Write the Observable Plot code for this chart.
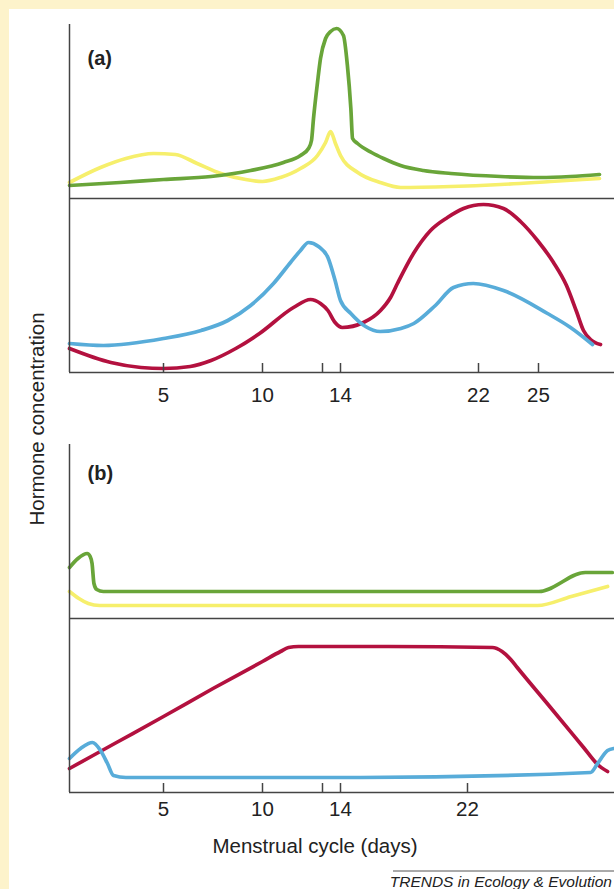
<!DOCTYPE html>
<html><head><meta charset="utf-8">
<script src="https://cdn.jsdelivr.net/npm/d3@7"></script>
<script src="https://cdn.jsdelivr.net/npm/@observablehq/plot@0.6"></script>
<style>
html,body{margin:0;padding:0;background:#fdf3cb;width:614px;height:889px;overflow:hidden;font-family:"Liberation Sans",Arial,Helvetica,sans-serif}
#sheet{position:absolute;left:9px;top:9px;right:0;bottom:0;background:#fff}
.abs{position:absolute;left:0}
</style></head><body>
<div id="sheet"></div>
<div id="pa" class="abs" style="top:0"></div>
<div id="pb" class="abs" style="top:420px"></div>
<svg class="abs" style="top:0" width="614" height="889" font-family="Liberation Sans, Arial, sans-serif" fill="#222">
  <text transform="translate(43.5,419) rotate(-90)" text-anchor="middle" font-size="20.5">Hormone concentration</text>
  <text x="315" y="852.5" text-anchor="middle" font-size="20.5">Menstrual cycle (days)</text>
  <line x1="393" x2="614" y1="871" y2="871" stroke="#555" stroke-width="1"/>
  <text x="612" y="886.5" text-anchor="end" font-size="15.5" font-style="italic">TRENDS in Ecology &amp; Evolution</text>
</svg>
<script>
// ---- data: [day, relative concentration] ----
const hormones = ["FSH", "LH", "Progesterone", "Estradiol"];
const colors = ["#f6ef6c", "#69a539", "#b3113f", "#58acd9"];

// Panel (a): normal cycle
const aFSH = [[0,16],[1.65,31],[3,40],[4.47,45],[5.6,44],[6.7,35],[7.9,25],[9.15,19],[10,17],[10.9,21],[11.9,30],[12.75,43],[13.17,56],[13.45,67],[13.72,55],[14,43],[15,26],[16.3,16],[17.48,11],[20.4,12],[23.1,14],[25.6,17],[28.05,20]];
const aLH = [[0,13],[2.7,16],[5,19],[7.4,22],[9.4,28],[11.05,36],[11.9,43],[12.3,50],[12.45,58],[12.55,80],[12.75,116],[12.9,140],[13.17,160],[13.45,167],[13.78,170],[14.17,163],[14.4,133],[14.6,90],[14.7,60],[14.99,55],[15.8,46],[16.5,40],[17.48,33],[18.8,28],[20.4,25],[23.1,22],[25.1,21],[26.6,22],[28.05,24]];
const aEstradiol = [[0,29],[1.8,27],[5,34],[6.9,42],[8.25,52],[9.4,67],[10.55,89],[11.4,110],[11.9,122],[12.3,130],[12.8,126],[13.3,115],[13.7,92],[14,72],[14.6,59],[15.45,46],[16.3,41],[17.5,44],[18.25,49],[19.5,67],[20.55,85],[21.7,89],[23.25,82],[25.45,59],[26.6,45],[27.7,28]];
const aProgesterone = [[0,24],[2.2,10],[3.8,5],[5,4],[6.35,6],[7.4,12],[8.65,24],[9.85,39],[11.55,65],[12.4,73],[12.9,69],[13.3,62],[13.7,50],[14.1,45],[15.33,50],[16.32,62],[16.9,75],[17.3,89],[18.23,119],[19.22,142],[20.2,155],[21.13,164],[22.25,168],[23.25,164],[24.1,151],[24.95,132],[25.75,110],[26.4,87],[26.9,61],[27.25,42],[27.6,33],[28.1,28]];
const aTicks = [5, 10, 13, 14, 22, 25];
const aDays = [0, 5, 10, 13, 14, 22, 25, 28.8];

// Panel (b): hormonal contraception cycle
const bFSH = [[0,27],[0.5,20],[1.0,15],[1.6,13],[25.24,13],[26.8,22],[28.48,32]];
const bLH = [[0,51],[0.45,60],[0.94,65],[1.1,62],[1.2,55],[1.3,35],[1.45,29],[1.8,27],[25.3,27],[27.45,46],[28.7,46]];
const bEstradiol = [[0,34],[0.59,44],[1.22,50],[1.65,42],[2.02,29],[2.34,17],[3,15],[15.26,15],[27.69,20],[28.02,29],[28.48,42],[28.76,44]];
const bProgesterone = [[0,24],[2.5,50],[5,76],[7.5,104],[10,131],[10.9,141],[11.3,145],[11.8,146],[17,146],[23.15,145],[23.6,141],[24.0,133],[24.3,125],[25.84,85],[27.37,45],[28.02,28],[28.48,21]];
const bTicks = [5, 10, 13, 14, 22];
const bDays = [0, 5, 10, 13, 14, 22, 28.8];

// schematic (non-uniform) day axis: pixel anchors of the drawn day positions
const aRange = [69, 163, 262, 322, 340, 478, 538, 614];
const bRange = [69, 163, 262, 322, 340, 467, 614];

function rows(list) {
  const out = [];
  for (const [name, sub, values] of list)
    for (const [day, v] of values) out.push({hormone: name, sub, day, v});
  return out;
}

function panel(el, title, data, days, range, ticks, opts) {
  const axisColor = "#444";
  const chart = Plot.plot({
    width: 614, height: 420,
    marginTop: opts.top, marginBottom: 48, marginLeft: 69, marginRight: 0,
    style: {background: "transparent", fontFamily: "Liberation Sans, Arial, sans-serif", fontSize: "20.5px", color: "#222", overflow: "visible"},
    x: {type: "linear", domain: days, range, label: null},
    y: {domain: [0, 174], axis: null},
    fy: {domain: ["hi", "lo"], padding: 0, axis: null, label: null},
    color: {domain: hormones, range: colors},
    marks: [
      Plot.line(data, {x: "day", y: "v", fy: "sub", z: "hormone", stroke: "hormone", strokeWidth: 3.7, curve: "monotone-x"}),
      Plot.ruleY([0], {stroke: axisColor, strokeWidth: 1.5}),
      Plot.ruleX([0], {stroke: axisColor, strokeWidth: 1.5}),
      Plot.ruleX(ticks, {x: d => d, y1: 0, y2: 9, fy: () => "lo", stroke: axisColor, strokeWidth: 1.5}),
      Plot.axisX(ticks, {tickSize: 0, tickPadding: opts.pad, tickFormat: d => d === 13 ? "" : String(d), fontSize: 20.5}),
      Plot.text([title], {frameAnchor: "top-left", fy: () => "hi", dx: 18, dy: opts.titleDy, fontWeight: "bold", fontSize: 20, textAnchor: "start", lineAnchor: "top"})
    ]
  });
  document.getElementById(el).appendChild(chart);
}

// draw order: yellow under green, red under blue
panel("pa", "(a)", rows([
  ["FSH", "hi", aFSH], ["LH", "hi", aLH],
  ["Progesterone", "lo", aProgesterone], ["Estradiol", "lo", aEstradiol]
]), aDays, aRange, aTicks, {top: 23, pad: 15, titleDy: 26});

panel("pb", "(b)", rows([
  ["FSH", "hi", bFSH], ["LH", "hi", bLH],
  ["Progesterone", "lo", bProgesterone], ["Estradiol", "lo", bEstradiol]
]), bDays, bRange, bTicks, {top: 24, pad: 9, titleDy: 21});
</script>
</body></html>
